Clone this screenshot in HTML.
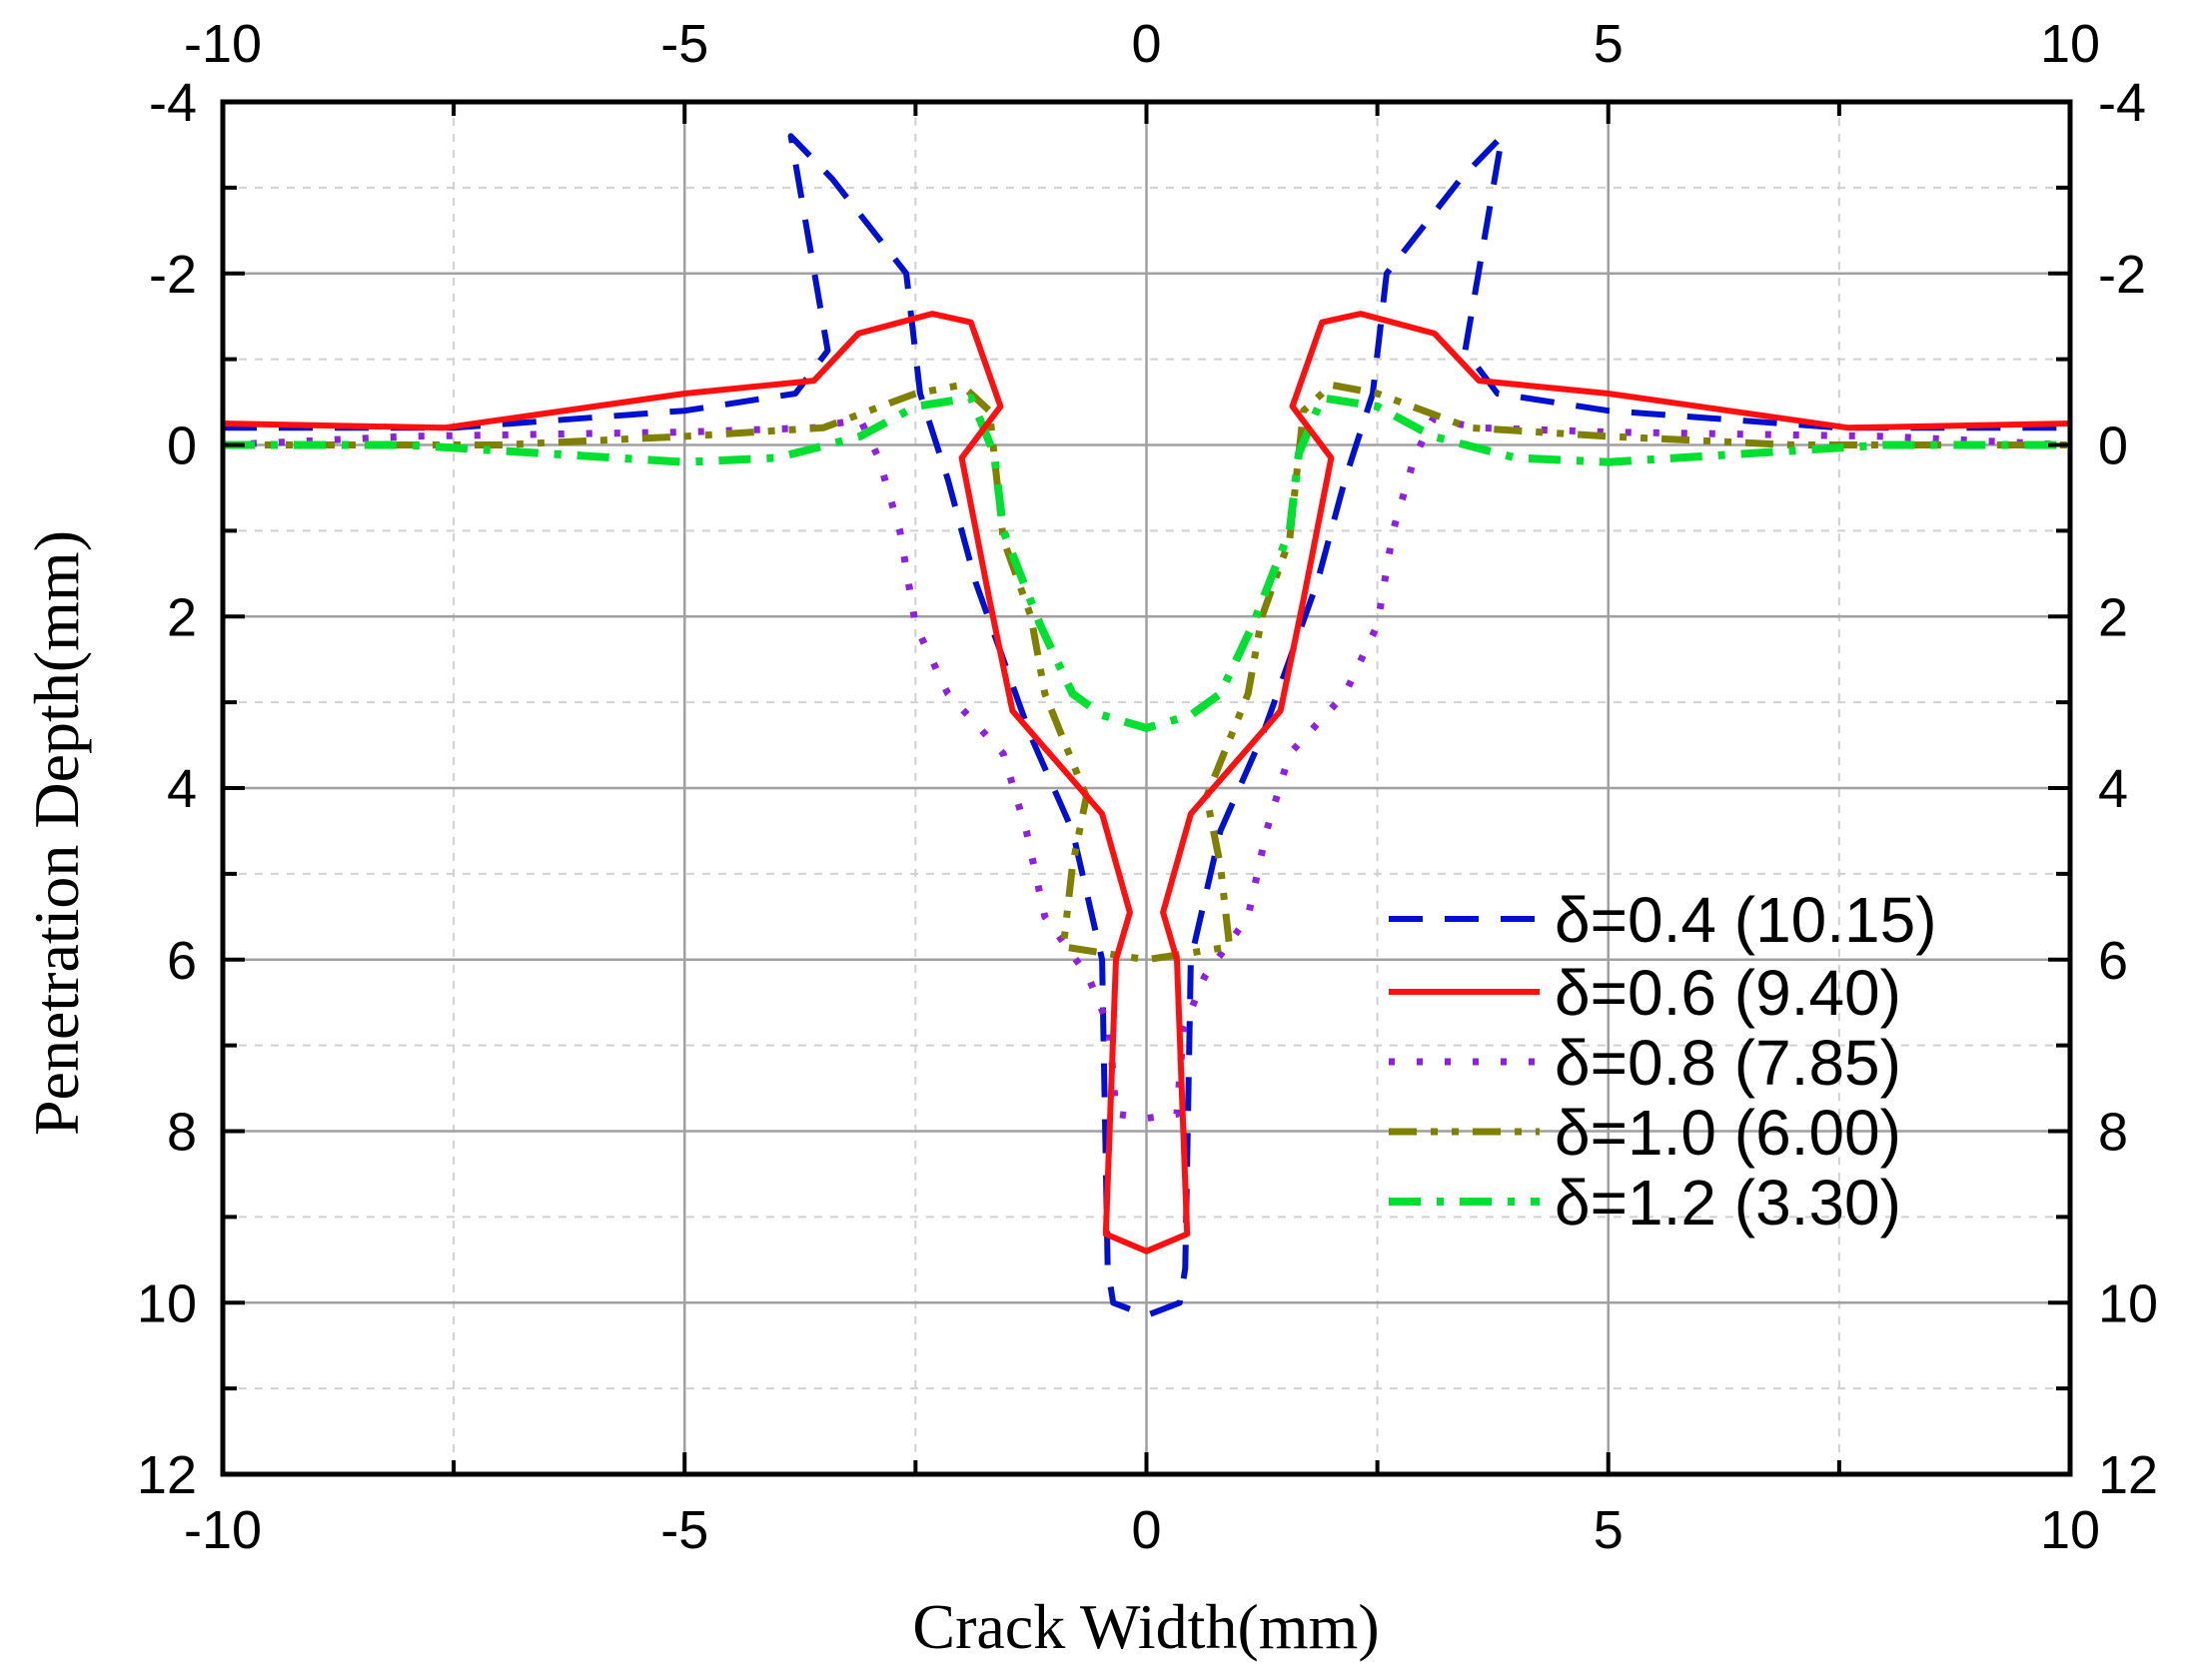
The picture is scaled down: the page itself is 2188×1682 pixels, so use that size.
<!DOCTYPE html>
<html><head><meta charset="utf-8"><style>
html,body{margin:0;padding:0;background:#fff}
svg{display:block}
text{font-family:"Liberation Sans",sans-serif;fill:#000}
</style></head><body>
<svg id="s" width="2188" height="1682" viewBox="0 0 2188 1682" xmlns="http://www.w3.org/2000/svg">
<g id="grid"></g>
<g id="series"></g>
<g id="axes"></g>
<g id="labels" font-size="54"></g>
<text x="1147" y="1650" font-size="64" text-anchor="middle" style="font-family:'Liberation Serif',serif">Crack Width(mm)</text>
<text transform="translate(78,834) rotate(-90)" font-size="64" text-anchor="middle" style="font-family:'Liberation Serif',serif">Penetration Depth(mm)</text>
<g id="legend" font-size="64"></g>
</svg>
<script>
const L=223,R=2072,T=102,B=1476;
const X=v=>L+(v+10)*(R-L)/20, Y=v=>T+(v+4)*(B-T)/16;
const ns="http://www.w3.org/2000/svg";
function el(p,tag,a,txt){const e=document.createElementNS(ns,tag);for(const k in a)e.setAttribute(k,a[k]);if(txt!==undefined)e.textContent=txt;document.getElementById(p).appendChild(e);return e;}
for(let v=-7.5;v<=7.5;v+=2.5){const major=(v%5===0);el('grid','line',{x1:X(v),x2:X(v),y1:T,y2:B,stroke:major?'#a0a0a0':'#d0d0d0','stroke-width':major?2.5:2,'stroke-dasharray':major?'':'8 8'});}
for(let v=-3;v<=11;v+=1){const major=(v%2===0);el('grid','line',{x1:L,x2:R,y1:Y(v),y2:Y(v),stroke:major?'#a0a0a0':'#d0d0d0','stroke-width':major?2.5:2,'stroke-dasharray':major?'':'8 8'});}
el('axes','rect',{x:L,y:T,width:R-L,height:B-T,fill:'none',stroke:'#000','stroke-width':5});
for(let v=-10;v<=10;v+=2.5){const m=(v%5===0)?22:14;el('axes','line',{x1:X(v),x2:X(v),y1:T,y2:T+m,stroke:'#000','stroke-width':4});el('axes','line',{x1:X(v),x2:X(v),y1:B,y2:B-m,stroke:'#000','stroke-width':4});}
for(let v=-4;v<=12;v+=1){const m=(v%2===0)?22:14;el('axes','line',{x1:L,x2:L+m,y1:Y(v),y2:Y(v),stroke:'#000','stroke-width':4});el('axes','line',{x1:R,x2:R-m,y1:Y(v),y2:Y(v),stroke:'#000','stroke-width':4});}
for(let v=-10;v<=10;v+=5){el('labels','text',{x:X(v),y:62,'text-anchor':'middle'},v);el('labels','text',{x:X(v),y:1550,'text-anchor':'middle'},v);}
for(let v=-4;v<=12;v+=2){el('labels','text',{x:197,y:Y(v)+19,'text-anchor':'end'},v);el('labels','text',{x:2100,y:Y(v)+19,'text-anchor':'start'},v);}
function mir(h){const r=h.slice();for(let i=h.length-2;i>=0;i--)r.push([-h[i][0],h[i][1]]);return r;}
const S=[
{c:'#0010d0',d:'34 22',w:6,p:[[-10,-0.2],[-7.5,-0.2],[-5,-0.4],[-3.8,-0.6],[-3.45,-1.1],[-3.85,-3.6],[-3.4,-3.1],[-2.6,-2.0],[-2.45,-0.6],[-2.15,0.4],[-1.85,1.6],[-1.25,3.4],[-0.8,4.5],[-0.48,6],[-0.42,9.6],[-0.36,10],[0,10.15]]},
{c:'#9020e0',d:'6 22',w:7,p:[[-10,0],[-8,-0.1],[-5,-0.15],[-3.6,-0.2],[-3.1,-0.3],[-2.9,0.15],[-2.67,1],[-2.5,2.1],[-2.15,2.9],[-1.55,3.6],[-1.3,4.5],[-1.1,5.5],[-0.63,6.2],[-0.4,6.8],[-0.33,7.8],[0,7.85]]},
{c:'#808000',d:'28 14 7 14 7 14',w:7,p:[[-10,0],[-7,0],[-5,-0.1],[-3.5,-0.2],[-2.5,-0.6],[-2.0,-0.7],[-1.7,-0.4],[-1.55,1.1],[-1.25,2],[-1.1,2.9],[-0.65,4.1],[-0.8,4.9],[-0.9,5.85],[0,6]]},
{c:'#00e030',d:'32 16 7 16',w:8,p:[[-10,0],[-8,0],[-5,0.2],[-4,0.15],[-3.1,-0.1],[-2.5,-0.45],[-1.9,-0.55],[-1.65,0.1],[-1.55,1.0],[-1.15,2.1],[-0.8,2.9],[-0.48,3.15],[0,3.3]]},
{c:'#ff1010',d:'',w:6,p:[[-10,-0.25],[-7.6,-0.2],[-5,-0.6],[-3.6,-0.75],[-3.12,-1.3],[-2.32,-1.53],[-1.9,-1.43],[-1.58,-0.45],[-2.0,0.15],[-1.7,1.8],[-1.45,3.1],[-0.48,4.3],[-0.18,5.45],[-0.33,6],[-0.44,9.2],[0,9.4]]}
];
for(const s of S){const pts=mir(s.p).map(q=>X(q[0]).toFixed(1)+','+Y(q[1]).toFixed(1)).join(' ');
el('series','polyline',{points:pts,fill:'none',stroke:s.c,'stroke-width':s.w,'stroke-dasharray':s.d,'stroke-linejoin':'round'});}
const lg=[['#0010d0','34 22',6,'δ=0.4 (10.15)',920],['#ff1010','',6,'δ=0.6 (9.40)',993],['#9020e0','6 22',7,'δ=0.8 (7.85)',1063],['#808000','28 14 7 14 7 14',7,'δ=1.0 (6.00)',1133],['#00e030','32 16 7 16',8,'δ=1.2 (3.30)',1203]];
for(const g of lg){el('legend','line',{x1:1390,x2:1541,y1:g[4],y2:g[4],stroke:g[0],'stroke-width':g[2],'stroke-dasharray':g[1]});el('legend','text',{x:1556,y:g[4]+23},g[3]);}
</script>
</body></html>
